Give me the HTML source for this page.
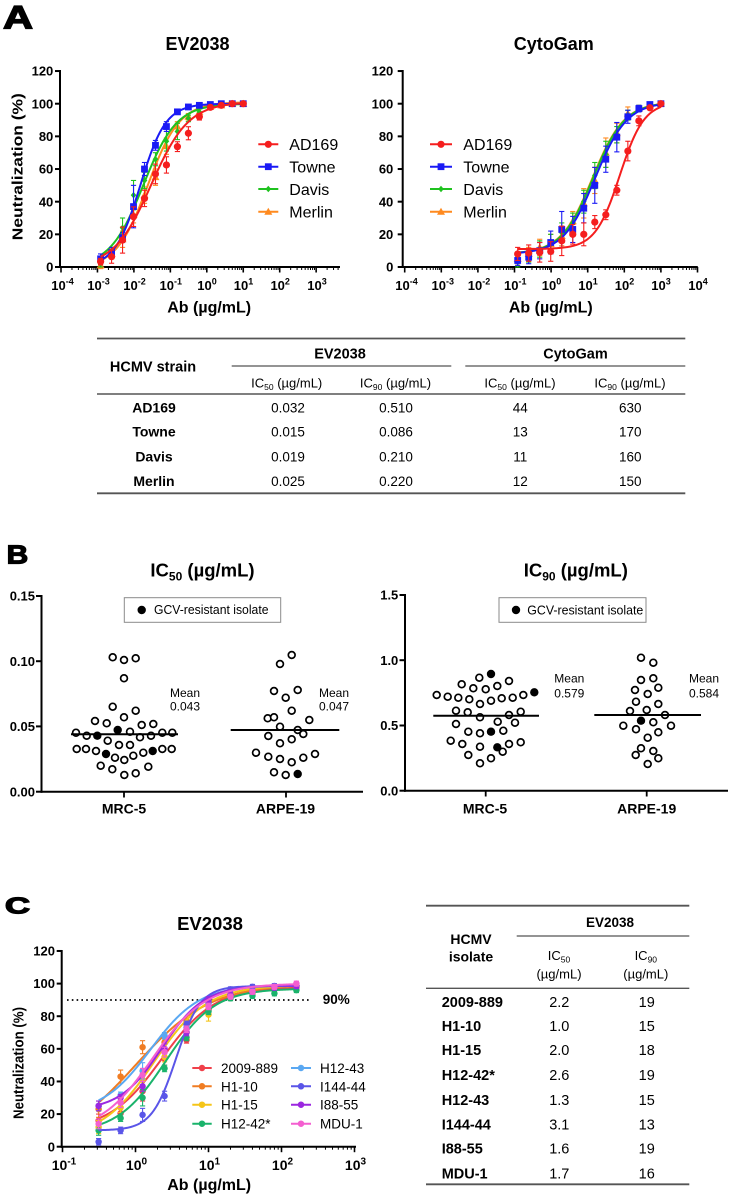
<!DOCTYPE html>
<html><head><meta charset="utf-8">
<style>
html,body{margin:0;padding:0;background:#fff;}
svg{display:block;}
text{font-family:"Liberation Sans",Arial,sans-serif;fill:#000;}
.b{font-weight:bold;}
</style></head><body>
<svg id="s" width="733" height="1199" viewBox="0 0 733 1199" xmlns="http://www.w3.org/2000/svg">
<rect x="0" y="0" width="733" height="1199" fill="#fff"/>
<g id="geo"></g>

<!-- ============ PANEL A ============ -->
<text x="3" y="28.3" font-size="32" class="b" stroke="#000" stroke-width="1.3" textLength="30" lengthAdjust="spacingAndGlyphs">A</text>
<text x="197.5" y="50" font-size="18" class="b" text-anchor="middle">EV2038</text>
<text x="553.8" y="50" font-size="18" class="b" text-anchor="middle">CytoGam</text>

<!-- A1 y tick labels -->
<g font-size="13" class="b" text-anchor="end">
<text x="53.3" y="271.6">0</text><text x="53.3" y="238.9">20</text><text x="53.3" y="206.3">40</text>
<text x="53.3" y="173.6">60</text><text x="53.3" y="141">80</text><text x="53.3" y="108.3">100</text><text x="53.3" y="75.6">120</text>
</g>
<!-- A2 y tick labels -->
<g font-size="13" class="b" text-anchor="end">
<text x="393.3" y="271.6">0</text><text x="393.3" y="238.9">20</text><text x="393.3" y="206.3">40</text>
<text x="393.3" y="173.6">60</text><text x="393.3" y="141">80</text><text x="393.3" y="108.3">100</text><text x="393.3" y="75.6">120</text>
</g>
<!-- A1 x tick labels -->
<g font-size="13" class="b" text-anchor="middle">
<text x="62.5" y="290">10<tspan dy="-5.5" font-size="9">-4</tspan></text>
<text x="98.5" y="290">10<tspan dy="-5.5" font-size="9">-3</tspan></text>
<text x="134.5" y="290">10<tspan dy="-5.5" font-size="9">-2</tspan></text>
<text x="170.8" y="290">10<tspan dy="-5.5" font-size="9">-1</tspan></text>
<text x="207" y="290">10<tspan dy="-5.5" font-size="9">0</tspan></text>
<text x="243.5" y="290">10<tspan dy="-5.5" font-size="9">1</tspan></text>
<text x="280.2" y="290">10<tspan dy="-5.5" font-size="9">2</tspan></text>
<text x="317" y="290">10<tspan dy="-5.5" font-size="9">3</tspan></text>
</g>
<!-- A2 x tick labels -->
<g font-size="13" class="b" text-anchor="middle">
<text x="406.5" y="290">10<tspan dy="-5.5" font-size="9">-4</tspan></text>
<text x="442.8" y="290">10<tspan dy="-5.5" font-size="9">-3</tspan></text>
<text x="479" y="290">10<tspan dy="-5.5" font-size="9">-2</tspan></text>
<text x="515.3" y="290">10<tspan dy="-5.5" font-size="9">-1</tspan></text>
<text x="551.5" y="290">10<tspan dy="-5.5" font-size="9">0</tspan></text>
<text x="588" y="290">10<tspan dy="-5.5" font-size="9">1</tspan></text>
<text x="624.5" y="290">10<tspan dy="-5.5" font-size="9">2</tspan></text>
<text x="661" y="290">10<tspan dy="-5.5" font-size="9">3</tspan></text>
<text x="698" y="290">10<tspan dy="-5.5" font-size="9">4</tspan></text>
</g>
<text transform="translate(22.7,166.7) rotate(-90)" font-size="15" class="b" text-anchor="middle" textLength="147" lengthAdjust="spacingAndGlyphs">Neutralization (%)</text>
<text x="209.2" y="312.5" font-size="16" class="b" text-anchor="middle">Ab (µg/mL)</text>
<text x="550.8" y="312.5" font-size="16" class="b" text-anchor="middle">Ab (µg/mL)</text>

<!-- A legends -->
<g font-size="16">
<text x="289.3" y="150">AD169</text><text x="289.3" y="172.5">Towne</text><text x="289.3" y="195">Davis</text><text x="289.3" y="217.5">Merlin</text>
<text x="463.3" y="150">AD169</text><text x="463.3" y="172.5">Towne</text><text x="463.3" y="195">Davis</text><text x="463.3" y="217.5">Merlin</text>
</g>

<!-- Table A -->
<g stroke="#555" fill="none">
<line x1="97" y1="338.5" x2="685.3" y2="338.5" stroke-width="1.8"/>
<line x1="231.7" y1="366" x2="451.3" y2="366" stroke-width="1.2"/>
<line x1="465.3" y1="366" x2="685.3" y2="366" stroke-width="1.2"/>
<line x1="97" y1="394" x2="685.3" y2="394" stroke-width="1.4"/>
<line x1="97" y1="493.3" x2="685.3" y2="493.3" stroke-width="1.8"/>
</g>
<text x="153" y="371.5" font-size="14.5" class="b" text-anchor="middle">HCMV strain</text>
<text x="340" y="358.3" font-size="14.5" class="b" text-anchor="middle">EV2038</text>
<text x="575.5" y="358.3" font-size="14.5" class="b" text-anchor="middle">CytoGam</text>
<g font-size="13" text-anchor="middle">
<text x="286.7" y="387.7">IC<tspan font-size="8.5" dy="2.5">50</tspan><tspan dy="-2.5"> (µg/mL)</tspan></text>
<text x="395.5" y="387.7">IC<tspan font-size="8.5" dy="2.5">90</tspan><tspan dy="-2.5"> (µg/mL)</tspan></text>
<text x="520" y="387.7">IC<tspan font-size="8.5" dy="2.5">50</tspan><tspan dy="-2.5"> (µg/mL)</tspan></text>
<text x="630" y="387.7">IC<tspan font-size="8.5" dy="2.5">90</tspan><tspan dy="-2.5"> (µg/mL)</tspan></text>
</g>
<g font-size="14" class="b" text-anchor="middle">
<text x="154" y="412.3">AD169</text><text x="154" y="436.7">Towne</text><text x="154" y="461.7">Davis</text><text x="154" y="486">Merlin</text>
</g>
<g font-size="13.5" text-anchor="middle">
<text x="288" y="412.3">0.032</text><text x="396" y="412.3">0.510</text><text x="520.3" y="412.3">44</text><text x="630.3" y="412.3">630</text>
<text x="288" y="436.7">0.015</text><text x="396" y="436.7">0.086</text><text x="520.3" y="436.7">13</text><text x="630.3" y="436.7">170</text>
<text x="288" y="461.7">0.019</text><text x="396" y="461.7">0.210</text><text x="520.3" y="461.7">11</text><text x="630.3" y="461.7">160</text>
<text x="288" y="486">0.025</text><text x="396" y="486">0.220</text><text x="520.3" y="486">12</text><text x="630.3" y="486">150</text>
</g>

<!-- ============ PANEL B ============ -->
<text x="6.7" y="563.3" font-size="25.5" class="b" stroke="#000" stroke-width="1.2" textLength="21.6" lengthAdjust="spacingAndGlyphs">B</text>
<text x="202.5" y="576.7" font-size="18.5" class="b" text-anchor="middle">IC<tspan font-size="12" dy="4">50</tspan><tspan dy="-4"> (µg/mL)</tspan></text>
<text x="575.8" y="576.7" font-size="18.5" class="b" text-anchor="middle">IC<tspan font-size="12" dy="4">90</tspan><tspan dy="-4"> (µg/mL)</tspan></text>
<g font-size="13" class="b" text-anchor="end">
<text x="35" y="600.6">0.15</text><text x="35" y="665.8">0.10</text><text x="35" y="731">0.05</text><text x="35" y="796.3">0.00</text>
<text x="398.3" y="599.6">1.5</text><text x="398.3" y="664.8">1.0</text><text x="398.3" y="730.1">0.5</text><text x="398.3" y="795.3">0.0</text>
</g>
<rect x="124.3" y="597.7" width="156.4" height="24.6" fill="#fff" stroke="#8a8a8a" stroke-width="1"/>
<circle cx="141.7" cy="610" r="4.2" fill="#000"/>
<text x="154" y="614" font-size="13" textLength="114.5" lengthAdjust="spacingAndGlyphs">GCV-resistant isolate</text>
<rect x="499" y="597.7" width="147" height="24.6" fill="#fff" stroke="#8a8a8a" stroke-width="1"/>
<circle cx="516" cy="610" r="4.2" fill="#000"/>
<text x="527.3" y="614.3" font-size="13" textLength="116" lengthAdjust="spacingAndGlyphs">GCV-resistant isolate</text>
<g font-size="12">
<text x="170" y="697">Mean</text><text x="170" y="710.7">0.043</text>
<text x="319" y="697">Mean</text><text x="319" y="710.7">0.047</text>
<text x="554.3" y="682.7">Mean</text><text x="554.3" y="697.7">0.579</text>
<text x="689" y="682.7">Mean</text><text x="689" y="697.7">0.584</text>
</g>
<g font-size="14" class="b" text-anchor="middle">
<text x="124" y="813.3">MRC-5</text><text x="285.5" y="813.3">ARPE-19</text>
<text x="485" y="813.3">MRC-5</text><text x="646.7" y="813.3">ARPE-19</text>
</g>

<!-- ============ PANEL C ============ -->
<text x="5" y="913.3" font-size="23.5" class="b" stroke="#000" stroke-width="1.3" textLength="25" lengthAdjust="spacingAndGlyphs">C</text>
<text x="210" y="930" font-size="18.5" class="b" text-anchor="middle">EV2038</text>
<g font-size="13" class="b" text-anchor="end">
<text x="55" y="1151.3">0</text><text x="55" y="1118.7">20</text><text x="55" y="1086.1">40</text><text x="55" y="1053.4">60</text>
<text x="55" y="1020.8">80</text><text x="55" y="988.2">100</text><text x="55" y="955.6">120</text>
</g>
<g font-size="14" class="b" text-anchor="middle">
<text x="64" y="1170">10<tspan dy="-5.5" font-size="10">-1</tspan></text>
<text x="136.5" y="1170">10<tspan dy="-5.5" font-size="10">0</tspan></text>
<text x="209.5" y="1170">10<tspan dy="-5.5" font-size="10">1</tspan></text>
<text x="282.5" y="1170">10<tspan dy="-5.5" font-size="10">2</tspan></text>
<text x="355.5" y="1170">10<tspan dy="-5.5" font-size="10">3</tspan></text>
</g>
<text transform="translate(23.5,1063) rotate(-90)" font-size="15" class="b" text-anchor="middle" textLength="112" lengthAdjust="spacingAndGlyphs">Neutralization (%)</text>
<text x="209.2" y="1190" font-size="16" class="b" text-anchor="middle">Ab (µg/mL)</text>
<text x="322.7" y="1004" font-size="13.5" class="b">90%</text>
<g font-size="13.5">
<text x="221" y="1073">2009-889</text><text x="221" y="1091.3">H1-10</text><text x="221" y="1109.7">H1-15</text><text x="221" y="1128.7">H12-42*</text>
<text x="320" y="1073">H12-43</text><text x="320" y="1091.3">I144-44</text><text x="320" y="1109.7">I88-55</text><text x="320" y="1128.7">MDU-1</text>
</g>

<!-- Table C -->
<g stroke="#555" fill="none">
<line x1="426" y1="905.7" x2="689.3" y2="905.7" stroke-width="1.8"/>
<line x1="516.7" y1="936" x2="689.3" y2="936" stroke-width="1.2"/>
<line x1="426" y1="988.3" x2="689.3" y2="988.3" stroke-width="1.4"/>
<line x1="426" y1="1184.3" x2="689.3" y2="1184.3" stroke-width="1.8"/>
</g>
<text x="610" y="927" font-size="13.5" class="b" text-anchor="middle">EV2038</text>
<text x="471" y="944" font-size="14" class="b" text-anchor="middle">HCMV</text>
<text x="471" y="961.7" font-size="14" class="b" text-anchor="middle">isolate</text>
<g font-size="13" text-anchor="middle">
<text x="559" y="960">IC<tspan font-size="8.5" dy="2.5">50</tspan></text>
<text x="645.8" y="960">IC<tspan font-size="8.5" dy="2.5">90</tspan></text>
<text x="559" y="978.3">(µg/mL)</text>
<text x="645.8" y="978.3">(µg/mL)</text>
</g>
<g font-size="14.5" class="b">
<text x="441.7" y="1007">2009-889</text><text x="441.7" y="1031.2">H1-10</text><text x="441.7" y="1055.2">H1-15</text><text x="441.7" y="1080.2">H12-42*</text>
<text x="441.7" y="1105">H12-43</text><text x="441.7" y="1129.5">I144-44</text><text x="441.7" y="1153.5">I88-55</text><text x="441.7" y="1178.5">MDU-1</text>
</g>
<g font-size="14.5" text-anchor="middle">
<text x="559.3" y="1007">2.2</text><text x="646.7" y="1007">19</text>
<text x="559.3" y="1031.2">1.0</text><text x="646.7" y="1031.2">15</text>
<text x="559.3" y="1055.2">2.0</text><text x="646.7" y="1055.2">18</text>
<text x="559.3" y="1080.2">2.6</text><text x="646.7" y="1080.2">19</text>
<text x="559.3" y="1105">1.3</text><text x="646.7" y="1105">15</text>
<text x="559.3" y="1129.5">3.1</text><text x="646.7" y="1129.5">13</text>
<text x="559.3" y="1153.5">1.6</text><text x="646.7" y="1153.5">19</text>
<text x="559.3" y="1178.5">1.7</text><text x="646.7" y="1178.5">16</text>
</g>
</svg>
<script>
(function(){
const NS="http://www.w3.org/2000/svg";
const G=document.getElementById('geo');
function el(t,a){const e=document.createElementNS(NS,t);for(const k in a)e.setAttribute(k,a[k]);G.appendChild(e);return e;}
function ln(x1,y1,x2,y2,c,w,ex){const a={x1:x1,y1:y1,x2:x2,y2:y2,stroke:c||'#000','stroke-width':w||1};if(ex)Object.assign(a,ex);return el('line',a);}
function logAxes(o){
  ln(o.ox,o.yTop-1,o.ox,o.oy+1,'#000',2);
  for(let i=0;i<=o.yN;i++){const y=o.oy-i*o.yStep;ln(o.ox-5,y,o.ox+0.5,y,'#000',2);}
  ln(o.ox-1,o.oy,o.xEnd,o.oy,'#000',2);
  for(let k=0;k<=o.nDec;k++){const x=o.x0+o.dec*k;
    if(x<=o.xEnd+0.8) ln(x,o.oy,x,o.oy+5.5,'#000',1.6);
    for(let m=2;m<=9;m++){const xm=x+o.dec*Math.log10(m);if(xm<=o.xEnd) ln(xm,o.oy,xm,o.oy+3,'#000',1);}
  }
}
function marker(sh,x,y,c,s){
  s=s||1;
  if(sh==='c') el('circle',{cx:x,cy:y,r:3.6*s,fill:c});
  else if(sh==='s') el('rect',{x:x-3.4*s,y:y-3.4*s,width:6.8*s,height:6.8*s,fill:c});
  else if(sh==='d') el('path',{d:`M${x} ${y-3.3*s}L${x+2.8*s} ${y}L${x} ${y+3.3*s}L${x-2.8*s} ${y}Z`,fill:c});
  else if(sh==='t') el('path',{d:`M${x} ${y-4*s}L${x+4*s} ${y+3*s}L${x-4*s} ${y+3*s}Z`,fill:c});
}
function f4(p,x){return p[0]+(p[1]-p[0])/(1+Math.pow(p[2]/x,p[3]));}
function curve(X,Y,p,l0,l1,c,w){let d='';for(let i=0;i<=140;i++){const l=l0+(l1-l0)*i/140;const v=f4(p,Math.pow(10,l));d+=(i?'L':'M')+X(l).toFixed(2)+' '+Y(v).toFixed(2);}el('path',{d:d,fill:'none',stroke:c,'stroke-width':w||2,'stroke-linejoin':'round'});}
function series(X,Y,concs,vals,errs,sh,c,p,ms){
  const l0=Math.log10(concs[0]),l1=Math.log10(concs[concs.length-1]);
  concs.forEach((cc,i)=>{const x=X(Math.log10(cc)),e=errs[i];if(e>0.6){const y1=Y(vals[i]+e),y2=Y(vals[i]-e);ln(x,y1,x,y2,c,1.1);ln(x-2.6,y1,x+2.6,y1,c,1.1);ln(x-2.6,y2,x+2.6,y2,c,1.1);}});
  curve(X,Y,p,l0,l1,c,2);
  concs.forEach((cc,i)=>marker(sh,X(Math.log10(cc)),Y(vals[i]),c,ms));
}
const RED='#f51e1e',BLUE='#1a1af5',GREEN='#1fc21f',ORANGE='#ff8a1f';

/* ---------- Chart A1 ---------- */
const X1=l=>61+36.45*(l+4), Y1=v=>267-v*1.633;
logAxes({ox:60,oy:267,x0:61,dec:36.45,nDec:7,xEnd:340,yTop:71,yStep:32.66,yN:6});
const cA=[];for(let n=13;n>=0;n--)cA.push(10/Math.pow(2,n));
series(X1,Y1,cA,[1,8,17,32,44,55,74,86,92,95,98,99,100,100],[2,3,5,5,5,5,5,3,2,2,1,1,0,0],'t',ORANGE,[-1,101,0.024,1.0]);
series(X1,Y1,cA,[2,9,24,44,53,66,77,83,91,95,98,99.5,100,100],[2,3,6,9,5,4,6,5,2,2,1,1,0,0],'d',GREEN,[0,100,0.018,0.95]);
series(X1,Y1,cA,[5,9,18,37,60,74.5,86,95,98,99,99.5,100,100,100],[3,3,3,13,4,3,3,1,1,1,1,1,1,1],'s',BLUE,[0,100,0.015,1.25]);
series(X1,Y1,cA,[3.3,6.3,16.5,30.8,42,57,62.5,73.7,81.9,92,97.8,99,100,100],[2,4,8,6,5,6,5,3,4,2,1,1,1,1],'c',RED,[0,101,0.03,0.85]);
[[RED,'c',144.3],[BLUE,'s',166.7],[GREEN,'d',189],[ORANGE,'t',211.7]].forEach(r=>{ln(258.3,r[2],278.3,r[2],r[0],2);marker(r[1],268.3,r[2],r[0]);});

/* ---------- Chart A2 ---------- */
const X2=l=>404.7+36.6*(l+4);
logAxes({ox:402.7,oy:267,x0:404.7,dec:36.6,nDec:8,xEnd:697.8,yTop:71,yStep:32.66,yN:6});
const cB=[];for(let n=13;n>=0;n--)cB.push(1000/Math.pow(2,n));
series(X2,Y1,cB,[5,8,12,14,19,28,39,53,70,82,94,97,99,100],[3,4,5,6,6,6,9,8,9,6,4,2,1,1],'t',ORANGE,[8,101,13.5,1.0]);
series(X2,Y1,cB,[3,7,11,14,21,27,40,56,69,81,93,97,99,100],[3,4,5,6,6,6,7,8,8,5,3,2,1,1],'d',GREEN,[8,101,14,1.0]);
series(X2,Y1,cB,[4,6,10,15,23,23,36,50,66,79.5,92,97,99.5,100],[3,4,5,7,11,8,9,11,8,9,4,2,1,1],'s',BLUE,[8,101,16,1.0]);
series(X2,Y1,cB,[8,8.5,9,9.5,16,20,20,27.5,32,47,71,89.5,97.5,100],[4,5,6,6,9,6,7,4,3,3,6,3,1,1],'c',RED,[11,101,75,1.3]);
[[RED,'c',144.3],[BLUE,'s',166.7],[GREEN,'d',189],[ORANGE,'t',211.7]].forEach(r=>{ln(430,r[2],452,r[2],r[0],2);marker(r[1],441,r[2],r[0]);});

/* ---------- Panel B ---------- */
ln(41.5,595,41.5,792.7,'#000',2);
[596,661.2,726.4,791.7].forEach(y=>ln(36,y,41.5,y,'#000',2));
ln(40.5,791.7,363,791.7,'#000',2);
[124,286].forEach(x=>ln(x,791.7,x,797.5,'#000',1.8));
ln(405,594,405,791.7,'#000',2);
[595,660.2,725.5,790.7].forEach(y=>ln(399.5,y,405,y,'#000',2));
ln(404,790.7,728,790.7,'#000',2);
[485.7,646.7].forEach(x=>ln(x,790.7,x,796.5,'#000',1.8));
function dots(arr){arr.forEach(d=>{if(d[2])el('circle',{cx:d[0],cy:d[1],r:4.2,fill:'#000'});else el('circle',{cx:d[0],cy:d[1],r:3.4,fill:'#fff',stroke:'#000','stroke-width':1.7});});}
const L1=[[112.7,657.3],[124,660],[135.7,658.3],[124,678.3],[112.7,706.7],[124,717.3],[135.7,710.7],[95,721],[106.7,723.3],[141.7,725],[153.3,724],[117.7,730,1],[76,732.7],[86.7,735.7],[97.3,735.7,1],[130,731.7],[140,737.3],[151,735.7],[162.3,732.7],[172.3,732.7],[107.7,740.7],[119,745],[130,745],[76.7,749],[86,749],[96,751],[106,754,1],[115,757.7],[124.3,760],[133.3,755.7],[143.3,752.7],[152.7,751,1],[162.3,749],[171.7,749],[100.7,765.7],[112.3,769.3],[124.3,775],[135.7,773.3],[148.3,766.7]];
const L2=[[291.7,655],[280,664],[274,691],[285.7,697.7],[297.7,690],[291.7,710.7],[267.7,718.3],[274,717.3],[309.3,720],[280,726.7],[297.7,730],[303.3,734],[268.3,736],[291.7,739.3],[280,743.3],[256,752.7],[268.3,756.7],[280,759],[291.7,762.3],[303.3,757.7],[315,754],[274,772.3],[285.7,775],[297.7,774,1]];
const R1=[[491,674,1],[479.3,677.7],[509,681],[461.7,684.3],[473.3,688.3],[485.7,689.3],[497.3,686],[534.3,692.3,1],[436.7,695],[447.7,696.7],[458.3,697.7],[469.3,699.3],[480,704],[491,700.7],[501.7,698.3],[512.7,697.7],[523.3,695],[456,710.7],[467.7,712.3],[509,715],[520.7,711.7],[480,717.3],[497.7,721.7],[456,724],[515,722.7],[468.3,731.7],[480,733.3],[491,731.7,1],[503.3,730.7],[450.7,740.7],[462.3,744],[480,746.7],[497.3,747.3,1],[509,744],[520.7,742.3],[502.7,751.7],[468.3,755],[491,758.3],[480,763.3]];
const R2=[[641,657.7],[653.3,662.7],[641,680],[653.3,678.3],[635,690],[658.3,687.7],[647.7,694],[636,701.7],[658.3,704],[630,711],[646.7,710],[665,715],[623.3,725.7],[641,720.7,1],[653.3,722.3],[671,725.7],[636,729.3],[658.3,732.3],[647.7,737.7],[641,748.3],[653.3,751],[635.7,755],[658.3,758.3],[647.7,764]];
dots(L1);dots(L2);dots(R1);dots(R2);
ln(71,734.3,178,734.3,'#000',2);ln(230.7,730,339.3,730,'#000',2);
ln(433.3,715.7,539,715.7,'#000',2);ln(594.3,715,701,715,'#000',2);

/* ---------- Chart C ---------- */
const XC=l=>62.5+73*(l+1), YC=v=>1146.7-v*1.631;
logAxes({ox:61.7,oy:1146.7,x0:62.5,dec:73,nDec:4,xEnd:356,yTop:951,yStep:32.62,yN:6});
ln(67,1000,310,1000,'#000',1.8,{'stroke-dasharray':'1.6,3.2'});
const cC=[];for(let n=9;n>=0;n--)cC.push(160/Math.pow(2,n));
const E=[4,3,4,3,2,2,1.5,1.5,1.5,1.5];
const CS=[
 ['#f0404a',[16,20.5,34,54,65.5,84,93,95,96.5,97.5],[10,98,2.3,1.2],[4,3,6,4,2,2,1.5,1.5,1.5,1.5]],
 ['#f07c22',[23,43,61,64,77,84,92,95,97,98],[0,100,1.0,0.85],[5,4,4,3,2,2,1.5,1.5,1.5,1.5]],
 ['#f5c518',[12,24,41,55,70,81,91.5,94,97,98.5],[5,99,1.8,1.2],[4,3,6,3,2,4,1.5,1.5,1.5,1.5]],
 ['#1ab36b',[10,17.5,30,48,67,83,91,92.5,94,96],[8,97,2.6,1.3],[3,2,5,2,2,2,1.5,1.5,1.5,1.5]],
 ['#5aa8f2',[25,31.5,46.5,68,73,88,93,95.5,98,99],[20,99,1.6,1.3],[3,2,5,2,2,2,1.5,1.5,1.5,1.5]],
 ['#5a55e8',[3,10,19.5,31,75,89,96.5,98,98.5,98.5],[10,98.5,3.6,2.6],[2,2,4,3,2,2,1.5,1.5,1.5,1.5]],
 ['#9b27e0',[25,30,37,60,70,90,93,95,97.5,98.5],[22,99,2.3,1.5],[3,2,3,3,2,2,1.5,1.5,1.5,1.5]],
 ['#f45fd0',[14,27,44,58,72,86,92,95,98,100],[8,100,1.7,1.2],[3,3,4,3,2,2,1.5,1.5,1.5,1.5]]
];
CS.forEach(s=>series(XC,YC,cC,s[1],s[3],'c',s[0],s[2],0.9));
const LY=[1068,1086.3,1104.7,1123.7];
CS.forEach((s,i)=>{const col=i<4?0:1,y=LY[i%4];const x1=col?291:192.3,x2=col?311:211.7;ln(x1,y,x2,y,s[0],2);marker('c',(x1+x2)/2,y,s[0],0.9);});
})();
</script>
</body></html>
